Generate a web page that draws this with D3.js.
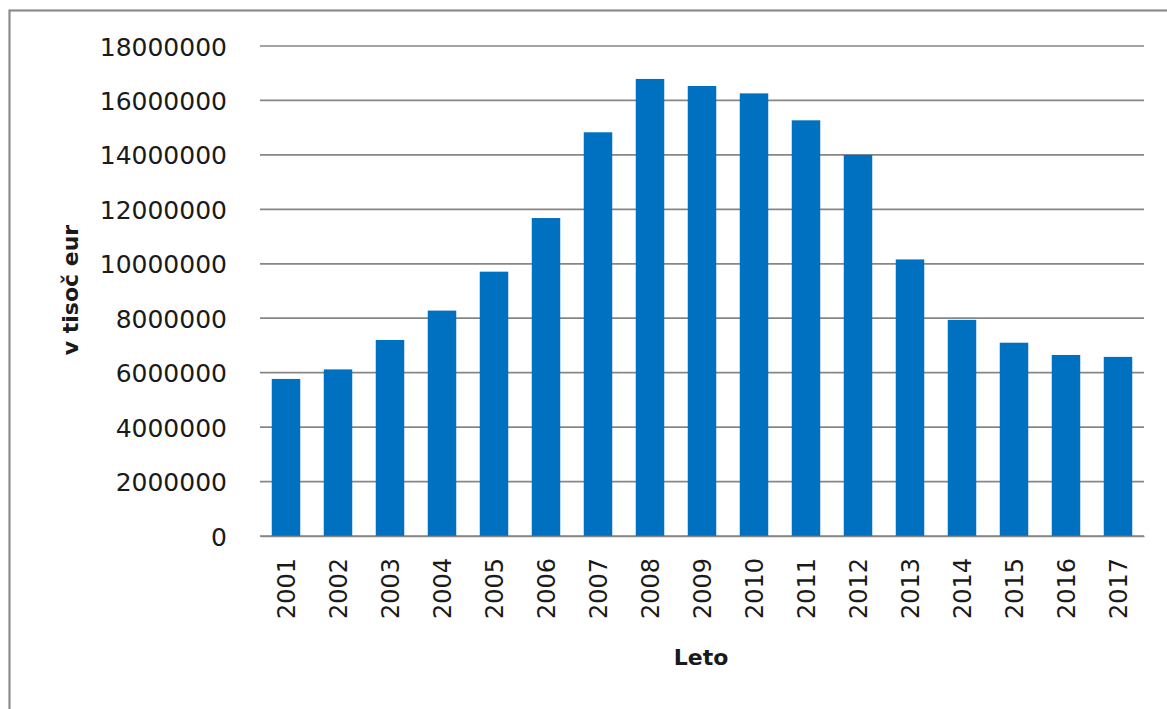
<!DOCTYPE html>
<html>
<head>
<meta charset="utf-8">
<script src="https://cdn.jsdelivr.net/npm/d3@7/dist/d3.min.js"></script>
<style>
  html, body { margin: 0; padding: 0; background: #ffffff; }
  svg { display: block; }
</style>
</head>
<body>
<svg id="chart" width="1167" height="709"></svg>
<script>
// Yearly totals, in thousands of euros
const years = ["2001","2002","2003","2004","2005","2006","2007","2008","2009",
               "2010","2011","2012","2013","2014","2015","2016","2017"];
const values = [5770000, 6120000, 7200000, 8280000, 9710000, 11680000, 14830000,
                16790000, 16530000, 16260000, 15270000, 14000000, 10160000,
                7940000, 7100000, 6650000, 6580000];
const yTicks = [0, 2000000, 4000000, 6000000, 8000000, 10000000, 12000000,
                14000000, 16000000, 18000000];
const yTitle = "v tisoč eur";
const xTitle = "Leto";

const svg = d3.select("#chart");
const W = 1167, H = 709;
const plotLeft = 260, plotRight = 1144, plotTop = 46, plotBottom = 536;

const font = "'DejaVu Sans', Verdana, sans-serif";

// outer frame
svg.append("rect")
  .attr("x", 9.5).attr("y", 10.5)
  .attr("width", W + 20).attr("height", H + 20)
  .attr("fill", "#ffffff")
  .attr("stroke", "#8c8c8c")
  .attr("stroke-width", 2.2);

const x = d3.scaleBand().domain(years).range([plotLeft, plotRight])
  .paddingInner(0.452).paddingOuter(0.226);
const y = d3.scaleLinear().domain([0, 18000000]).range([plotBottom, plotTop]);

// horizontal gridlines
svg.append("g")
  .selectAll("line")
  .data(yTicks)
  .join("line")
  .attr("x1", plotLeft).attr("x2", plotRight)
  .attr("y1", d => y(d)).attr("y2", d => y(d))
  .attr("stroke", "#868686")
  .attr("stroke-width", 1.7);

// bars
svg.append("g")
  .selectAll("rect")
  .data(values)
  .join("rect")
  .attr("x", (d, i) => x(years[i]))
  .attr("width", x.bandwidth())
  .attr("y", d => y(d))
  .attr("height", d => y(0) - y(d))
  .attr("fill", "#0070c0");

// y axis labels
const yAxis = d3.axisLeft(y).tickValues(yTicks).tickSize(0).tickPadding(0)
  .tickFormat(d3.format("d"));
const gy = svg.append("g").attr("transform", `translate(${plotLeft - 33},0)`).call(yAxis);
gy.select(".domain").remove();
gy.selectAll("text")
  .attr("font-family", font)
  .attr("font-size", 25)
  .attr("fill", "#1a1a1a")
  .attr("dy", "0.36em");

// x axis baseline and rotated year labels
const xAxis = d3.axisBottom(x).tickSize(0).tickPadding(0);
const gx = svg.append("g").attr("transform", `translate(0,${plotBottom})`).call(xAxis);
gx.select(".domain").attr("stroke", "#868686").attr("stroke-width", 1.7);
gx.selectAll("text")
  .attr("font-family", font)
  .attr("font-size", 24)
  .attr("fill", "#1a1a1a")
  .attr("text-anchor", "end")
  .attr("transform", "rotate(-90)")
  .attr("x", -22)
  .attr("y", 0)
  .attr("dy", "0.36em");

// axis titles
svg.append("text")
  .attr("transform", "translate(78,290) rotate(-90)")
  .attr("text-anchor", "middle")
  .attr("font-family", font)
  .attr("font-weight", "bold")
  .attr("font-size", 22)
  .attr("fill", "#1a1a1a")
  .text(yTitle);

svg.append("text")
  .attr("x", 701).attr("y", 665)
  .attr("text-anchor", "middle")
  .attr("font-family", font)
  .attr("font-weight", "bold")
  .attr("font-size", 22)
  .attr("fill", "#1a1a1a")
  .text(xTitle);
</script>
</body>
</html>
